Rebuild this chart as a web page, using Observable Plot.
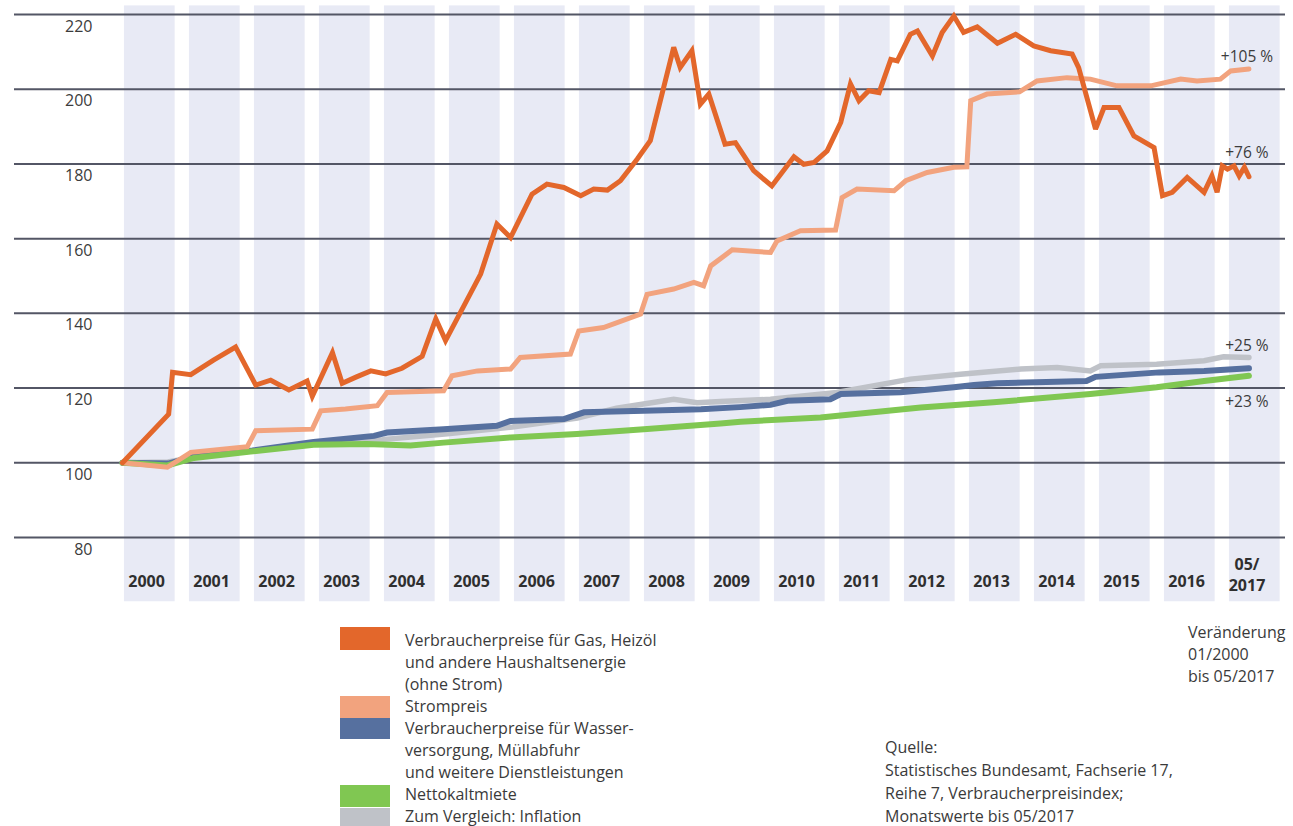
<!DOCTYPE html>
<html>
<head>
<meta charset="utf-8">
<script src="https://cdn.jsdelivr.net/npm/d3@7"></script>
<script src="https://cdn.jsdelivr.net/npm/@observablehq/plot@0.6"></script>
<style>
  html, body { margin: 0; padding: 0; background: #fff; }
  #wrap { position: relative; width: 1293px; height: 826px; overflow: hidden; font-family: "Open Sans", "Noto Sans", sans-serif; color: #333; }
  #chart { position: absolute; left: 0; top: 0; }
  .sw { position: absolute; left: 340px; width: 50px; }
  .txt { position: absolute; font-size: 16px; line-height: 22px; color: #3a3a3a; white-space: nowrap; }
  svg text.endlabel { letter-spacing: 0.8px; }
</style>
</head>
<body>
<div id="wrap">
  <div id="chart"></div>
  <div class="sw" style="top:627px;height:23px;background:#e3672b"></div>
  <div class="sw" style="top:696px;height:22px;background:#f2a37e"></div>
  <div class="sw" style="top:718px;height:21px;background:#56709f"></div>
  <div class="sw" style="top:785px;height:22px;background:#80c752"></div>
  <div class="sw" style="top:808px;height:22px;background:#bfc2c8"></div>
  <div class="txt" id="legendText" style="left:405px;top:629px;"></div>
  <div class="txt" id="changeText" style="left:1188px;top:621px;"></div>
  <div class="txt" id="sourceText" style="left:885px;top:736px;line-height:23px;"></div>
</div>
<script>
// ---- Data ----
const years = [2000,2001,2002,2003,2004,2005,2006,2007,2008,2009,2010,2011,2012,2013,2014,2015,2016,2017];
const yearLabels = ["2000","2001","2002","2003","2004","2005","2006","2007","2008","2009","2010","2011","2012","2013","2014","2015","2016"];
const lastYearLabel = "05/\n2017";
const yTicks = [80,100,120,140,160,180,200,220];

// Verbraucherpreise für Gas, Heizöl und andere Haushaltsenergie (decimal year, index)
const gasT = [2000.00,2000.71,2000.77,2001.05,2001.40,2001.74,2002.05,2002.28,2002.56,2002.84,2002.92,2003.23,2003.38,2003.60,2003.82,2004.05,2004.30,2004.61,2004.82,2004.97,2005.51,2005.76,2005.97,2006.30,2006.53,2006.79,2007.05,2007.25,2007.46,2007.66,2007.92,2008.12,2008.48,2008.58,2008.76,2008.89,2009.02,2009.27,2009.43,2009.71,2009.99,2010.33,2010.48,2010.64,2010.84,2011.05,2011.20,2011.33,2011.48,2011.64,2011.82,2011.92,2012.12,2012.23,2012.46,2012.61,2012.79,2012.94,2013.15,2013.46,2013.74,2014.02,2014.28,2014.61,2014.71,2014.97,2015.10,2015.33,2015.56,2015.87,2016.00,2016.15,2016.38,2016.64,2016.76,2016.84,2016.92,2017.00,2017.10,2017.18,2017.26,2017.33];
const gasV = [100.0,113.0,124.2,123.6,127.5,131.0,120.8,122.1,119.5,121.9,117.8,129.5,121.3,123.0,124.6,123.8,125.3,128.5,138.5,132.7,150.5,163.9,160.3,171.9,174.6,173.7,171.5,173.3,173.0,175.5,181.3,186.2,211.2,205.8,210.3,196.0,198.7,185.3,185.7,178.2,174.1,181.9,179.9,180.4,183.5,191.1,201.4,196.9,199.6,199.1,208.0,207.6,214.7,215.6,208.9,215.2,219.6,215.2,216.7,212.3,214.7,211.6,210.3,209.4,205.8,189.3,195.1,195.1,187.5,184.4,171.5,172.4,176.4,172.4,176.8,172.4,179.5,178.6,179.5,176.8,179.1,176.6];

// Strompreis
const stromT = [2000.00,2000.69,2001.05,2001.92,2002.05,2002.92,2003.05,2003.43,2003.92,2004.07,2004.94,2005.07,2005.46,2005.97,2006.12,2006.89,2007.02,2007.40,2007.97,2008.07,2008.48,2008.79,2008.94,2009.05,2009.38,2009.97,2010.07,2010.43,2010.97,2011.07,2011.30,2011.87,2012.05,2012.38,2012.79,2012.99,2013.05,2013.30,2013.80,2014.07,2014.53,2014.89,2015.30,2015.82,2016.28,2016.53,2016.89,2017.05,2017.33];
const stromV = [100.0,98.8,102.8,104.3,108.6,109.0,113.9,114.4,115.3,118.8,119.3,123.3,124.6,125.1,128.2,129.1,135.3,136.2,139.8,145.1,146.5,148.3,147.4,152.7,157.0,156.3,159.4,162.1,162.3,171.0,173.3,172.8,175.5,177.7,179.1,179.2,196.9,198.7,199.3,202.2,203.1,202.7,200.9,200.9,202.7,202.2,202.7,204.9,205.4];

// Verbraucherpreise für Wasserversorgung, Müllabfuhr und weitere Dienstleistungen
const wasserT = [2000.00,2000.70,2001.10,2002.00,2002.94,2003.87,2004.07,2004.94,2005.76,2005.97,2006.79,2007.10,2008.02,2008.90,2009.50,2009.97,2010.23,2010.89,2011.05,2011.97,2012.79,2013.10,2013.46,2014.83,2014.97,2015.95,2016.64,2017.33];
const wasserV = [100.0,99.8,101.6,103.3,105.6,107.2,108.1,109.0,109.9,111.2,111.7,113.5,113.9,114.3,114.9,115.5,116.6,117.0,118.4,118.9,120.2,120.8,121.3,121.9,123.0,124.2,124.6,125.3];

// Nettokaltmiete
const mieteT = [2000.00,2000.69,2001.10,2001.97,2002.94,2003.76,2004.43,2004.94,2005.97,2006.99,2008.02,2009.20,2009.51,2010.74,2012.28,2013.40,2014.89,2015.91,2016.64,2017.33];
const mieteV = [100.0,99.3,101.3,103.0,104.8,105.0,104.6,105.4,106.8,107.7,109.0,110.5,111.0,112.1,114.8,116.2,118.4,120.2,121.9,123.3];

// Zum Vergleich: Inflation
const inflT = [2000.00,2000.70,2001.10,2002.00,2003.00,2004.00,2005.00,2006.00,2007.00,2007.60,2008.48,2008.84,2009.20,2009.97,2010.99,2012.12,2012.89,2013.82,2014.38,2014.89,2015.05,2015.91,2016.64,2016.94,2017.33];
const inflV = [100.0,100.2,101.5,103.2,105.2,106.2,107.8,109.6,112.0,114.6,117.0,116.1,116.4,117.0,118.8,122.4,123.7,125.1,125.5,124.6,126.0,126.4,127.3,128.4,128.2];

const endLabels = ["+105 %","+76 %","+25 %","+23 %"];

const legendLines = ["Verbraucherpreise für Gas, Heizöl","und andere Haushaltsenergie","(ohne Strom)","Strompreis","Verbraucherpreise für Wasser-","versorgung, Müllabfuhr","und weitere Dienstleistungen","Nettokaltmiete","Zum Vergleich: Inflation"];
const changeLines = ["Veränderung","01/2000","bis 05/2017"];
const sourceLines = ["Quelle:","Statistisches Bundesamt, Fachserie 17,","Reihe 7, Verbraucherpreisindex;","Monatswerte bis 05/2017"];

// ---- Build ----
const toRows = (T, V) => T.map((t, i) => ({t, v: V[i]}));
const gas = toRows(gasT, gasV);
const strom = toRows(stromT, stromV);
const wasser = toRows(wasserT, wasserV);
const miete = toRows(mieteT, mieteV);
const infl = toRows(inflT, inflV);
const last = a => a[a.length - 1];

const lineOpts = {x: "t", y: "v", strokeLinejoin: "miter", strokeMiterlimit: 3};
const endOpts = {x: "t", y: "v", dx: -2, fontSize: 15.5, fill: "#3c3c3c", className: "endlabel"};
const endLabel = (series, label, dy) =>
  Plot.text([last(series)], {...endOpts, text: () => label, dy});

const chart = Plot.plot({
  width: 1293,
  height: 602,
  marginLeft: 14,
  marginRight: 8,
  marginTop: 14,
  marginBottom: 65,
  style: {fontFamily: "'Open Sans', 'Noto Sans', sans-serif", background: "transparent"},
  x: {type: "linear", domain: [2000 - 108/65, 2000 + 1163/65], axis: null},
  y: {domain: [80, 220], axis: null},
  marks: [
    Plot.rect(years, {x1: d => d + 0.03, x2: d => d + 0.81, y1: 62.8, y2: 222.3, fill: "#e8eaf5"}),
    Plot.ruleY(yTicks, {stroke: "#535665", strokeWidth: 2}),
    Plot.axisY(yTicks, {anchor: "left", tickSize: 0, tickPadding: 0, dx: 78, dy: 12, fontSize: 16, color: "#3c3c3c", label: null}),
    Plot.text(yearLabels, {x: (d, i) => years[i] + 0.37, text: d => d, frameAnchor: "bottom", dy: 49, fontSize: 16, fontWeight: "bold", fill: "#2f2f2f"}),
    Plot.text([lastYearLabel], {x: years[years.length - 1] + 0.3, text: d => d, frameAnchor: "bottom", dy: 53, lineAnchor: "bottom", lineHeight: 1.3, fontSize: 16, fontWeight: "bold", fill: "#2f2f2f"}),
    Plot.line(infl, {...lineOpts, stroke: "#bfc2c8", strokeWidth: 5.5}),
    Plot.line(wasser, {...lineOpts, stroke: "#56709f", strokeWidth: 6}),
    Plot.line(miete, {...lineOpts, stroke: "#80c752", strokeWidth: 6}),
    Plot.line(strom, {...lineOpts, stroke: "#f2a37e", strokeWidth: 5}),
    Plot.line(gas, {...lineOpts, stroke: "#e3672b", strokeWidth: 5}),
    endLabel(strom, endLabels[0], -12),
    endLabel(gas, endLabels[1], -24),
    endLabel(infl, endLabels[2], -11),
    endLabel(miete, endLabels[3], 26)
  ]
});
document.getElementById("chart").appendChild(chart);

document.getElementById("legendText").innerHTML = legendLines.join("<br>");
document.getElementById("changeText").innerHTML = changeLines.join("<br>");
document.getElementById("sourceText").innerHTML = sourceLines.join("<br>");
</script>
</body>
</html>
